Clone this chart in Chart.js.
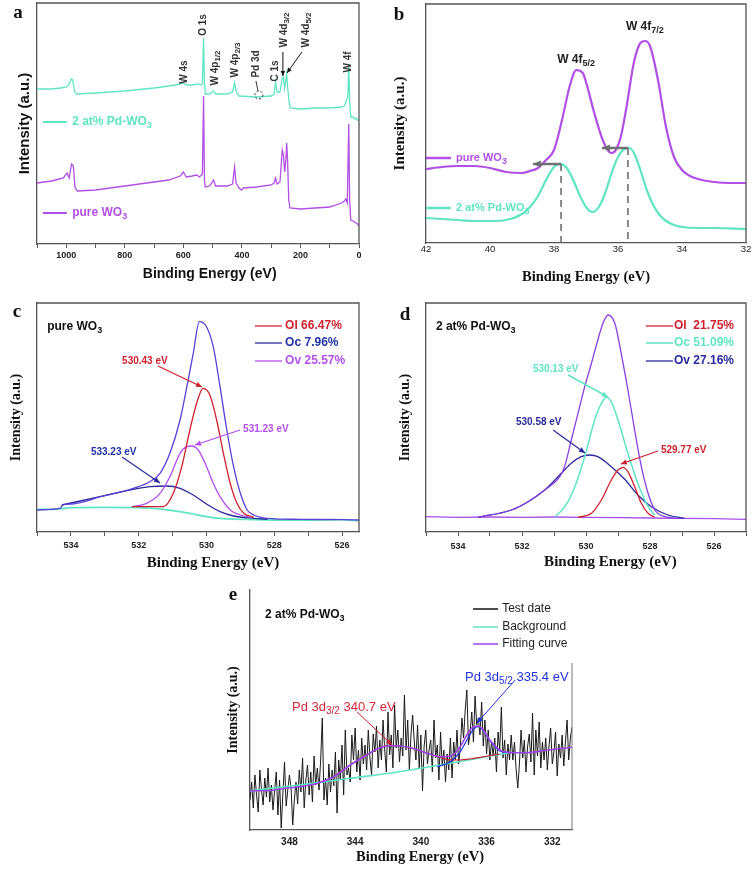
<!DOCTYPE html>
<html>
<head>
<meta charset="utf-8">
<script src="https://cdn.jsdelivr.net/npm/chart.js@4.4.1/dist/chart.umd.min.js"></script>
<style>
  body { margin: 0; background: #fff; }
  #page { position: relative; width: 756px; height: 874px; overflow: hidden; background: #fff; }
  canvas { position: absolute; }
</style>
</head>
<body>
<div id="page">
  <canvas id="chartA" width="378" height="290" style="left:0;top:0"></canvas>
  <canvas id="chartB" width="378" height="290" style="left:378px;top:0"></canvas>
  <canvas id="chartC" width="378" height="290" style="left:0;top:290px"></canvas>
  <canvas id="chartD" width="378" height="290" style="left:378px;top:290px"></canvas>
  <canvas id="chartE" width="400" height="294" style="left:200px;top:580px"></canvas>
</div>
<script>
// ---- panel a: survey spectra ----
const aPdEnergy = [1100,1050,1020,1000,990,983,978,972,965,900,800,700,650,610,600,590,570,550,540,535,531,528,525,510,497,490,450,432,425,420,410,350,300,290,285,280,270,262,258,254,250,247,243,238,234,200,150,100,60,50,42,38,35,32,28,20,15,10,5,0];
const aPdIntensity = [155,155,156,157,160,165,164,153,150,151,153,156,158,160,161,159,159,160,159,160,206,162,150,150,153,150,150,152,161,153,148,147,148,150,162,152,152,166,167,156,164,170,154,140,136,135,136,136,137,138,144,148,180,144,127,127,125,126,124,124];
const aPureEnergy = [1100,1050,1010,997,990,982,976,970,962,900,800,700,650,610,600,590,570,555,545,535,531,528,525,510,497,490,450,432,425,420,410,402,395,350,300,290,285,280,270,262,258,254,250,247,244,240,236,200,150,100,60,50,45,40,35,32,28,20,15,10,5,0];
const aPureIntensity = [61,63,66,71,66,80,78,56,53,54,58,62,64,68,72,67,68,69,67,70,148,64,57,58,64,58,58,60,77,61,56,54,56,57,59,61,66,60,62,94,89,72,84,101,84,44,36,35,36,37,41,43,45,41,120,44,24,23,22,21,20,18];

// ---- panel b: W 4f ----
const bPureEnergy = [42,41.5,41,40.5,40,39.5,39,38.75,38.5,38.25,38,37.75,37.5,37.3,37.1,37,36.75,36.5,36.3,36.2,36.05,35.9,35.75,35.5,35.3,35.15,35,34.75,34.5,34.25,34,33.75,33.5,33,32.5,32];
const bPureIntensity = [74,76,77,77,75,71,70,72,75,83,93,123,158,173,170,161,131,105,92,90,94,108,133,181,200,202,197,163,116,86,73,67,64,61,60,60];
const bPdEnergy = [42,41.5,41,40.5,40,39.5,39,38.75,38.5,38.25,38,37.8,37.6,37.4,37.2,37,36.8,36.6,36.4,36.2,36,35.8,35.65,35.5,35.3,35.1,34.9,34.7,34.5,34.25,34,33.5,33,32];
const bPdIntensity = [25,24,23,22,22,23,29,36,47,63,76,79,75,63,48,36,31,36,50,70,86,94,95,90,73,53,38,28,22,18,16,15,15,14];

// ---- panel c: O 1s pure WO3 ----
const cBgEnergy = [535,534.5,534,533,532,531.5,531,530.5,530,529.5,529,528,527,526,525.5];
const cBgIntensity = [22.7,22.7,24.3,24.7,24.3,23.3,21.3,18.7,15.3,13.3,12.7,12,12,12.3,11.3];
const cRawEnergy = [535,534.6,534.3,534.25,534,533.5,533.14,532.6,532.16,531.67,531.37,531.08,530.78,530.54,530.39,530.21,530.0,529.8,529.6,529.4,529.2,529.0,528.8,528.6,528.2,527.2,526,525.5];
const cRawIntensity = [22,22.7,24,27,28,31.3,35.3,39.3,43.7,50.3,58.7,78.7,112,152,178.7,210.3,205.3,185.3,145.3,102,65.3,38.7,22,17,13.7,12.7,12.3,12];
const cOlEnergy = [532.2,531.27,530.98,530.73,530.49,530.29,530.1,529.9,529.7,529.5,529.3,529.1,528.9,528.6];
const cOlIntensity = [25.3,25.3,38.7,65.3,102,128.7,143.7,137,112,78.7,48.7,28.7,18.7,14.7];
const cOvEnergy = [532.21,531.77,531.37,531.08,530.78,530.58,530.44,530.24,530.04,529.8,529.6,529.3,529.0,528.7];
const cOvIntensity = [25.3,28.7,38.7,55.3,78.7,85.3,86,82,68.7,48.7,35.3,22,17,14.7];
const cOcEnergy = [534.27,533.14,532.16,531.67,531.17,530.78,530.39,530.0,529.6,529.2,528.6,528.2];
const cOcIntensity = [27,35.3,42.7,45.3,46,43.7,37,28,20.3,16,13.7,12.7];

// ---- panel d: O 1s 2 at% Pd-WO3 ----
const dBaseEnergy = [535,534,533,532,531,530,529,528,527,526,525];
const dBaseIntensity = [15.3,14.7,15,14.7,15,14.7,14.3,14,13.7,13.3,12.7];
const dRawEnergy = [533.37,532.33,531.81,531.29,530.82,530.67,530.46,530.25,530.04,529.83,529.63,529.47,529.31,529.1,528.9,528.69,528.48,528.27,528.06,527.85,527.54,527.13];
const dRawIntensity = [14.7,22,30.3,42,55.3,65.3,92,118.7,145.3,168.7,192,208.7,217,208.7,178.7,142,102,65.3,38.7,22,15.3,13.7];
const dOcEnergy = [530.97,530.66,530.35,530.04,529.73,529.52,529.36,529.21,529.0,528.69,528.38,528.06,527.85];
const dOcIntensity = [15.3,25.3,45.3,75.3,112,128.7,134.7,130.3,112,78.7,48.7,25.3,17];
const dOlEnergy = [530.25,529.83,529.52,529.21,529.0,528.84,528.69,528.48,528.27,528.06,527.85];
const dOlIntensity = [14.7,18.7,32,52,62,64.7,60.3,45.3,28.7,18.7,14.7];
const dOvEnergy = [533.37,532.33,531.81,531.29,530.77,530.46,530.15,529.89,529.63,529.21,528.79,528.38,527.96,527.44,526.92];
const dOvIntensity = [14.7,22,30.3,42,58.7,68.7,75.3,77,75.3,65.3,52.7,37,25.3,17,13.7];

// ---- panel e: Pd 3d ----
const eTestStart = 350.4;
const eTestStep = 0.1;
const eTestIntensity = [
  30,48,22,55,35,18,60,40,25,52,
  33,62,28,45,20,40,58,15,50,2,
  36,68,24,40,55,42,5,30,48,26,
  60,38,72,22,50,65,35,58,28,74,
  45,62,40,70,112,30,52,25,66,38,
  60,44,78,17,70,50,85,35,100,55,
  62,48,95,70,102,58,80,50,92,66,
  85,60,100,72,55,96,78,104,62,90,
  70,110,80,58,118,75,95,62,125,82,
  100,68,92,74,135,80,110,60,96,115,
  88,70,105,62,95,39,84,100,66,80,
  90,58,110,72,85,50,98,64,80,48,
  76,60,92,52,88,70,100,66,82,112,
  92,120,140,85,98,118,88,134,105,112,
  95,128,84,110,76,100,70,88,75,92,
  58,98,80,123,72,90,55,86,70,95,
  70,88,60,42,66,100,72,90,58,84,
  96,68,117,55,100,74,108,62,88,70,
  92,60,84,102,66,78,98,54,86,72,
  95,64,88,110,70,92,103
];
const eFitEnergy = [350.4,349.4,348.4,347.4,346.3,345.3,344.3,343.3,342.5,341.9,341.3,340.5,339.6,338.8,338.2,337.6,337.2,336.8,336.5,336.2,335.8,335.2,334.4,333.6,332.3,330.8];
const eFitIntensity = [39.3,39.3,41.3,43.3,46.7,53.3,65,75,82.3,84.3,84,81.7,76.7,73.3,74,83.3,95,103.3,104,100,90,80,77.3,77.3,80,82.7];
const eBgEnergy = [350.4,347.4,344.3,341.3,338.2,336.2,334.6];
const eBgIntensity = [39.3,45,51.7,58.3,66.7,72.7,77.3];
const eRedEnergy = [345.3,344.3,343.3,342.5,341.9,341.3,340.5,339.6,338.8,338.2,337.6,337.0,336.4,335.8,335.2];
const eRedIntensity = [53.3,65,75,82.3,84.3,84,81.7,76.7,72.7,70,70,71,72.7,74.3,76];
const eBlueEnergy = [339.0,338.2,337.6,337.2,336.8,336.5,336.2,335.8,335.2,334.6];
const eBlueIntensity = [63.3,68.3,78.3,90,100.7,103.3,99.3,89.3,79,77.3];

const SANS = '"Liberation Sans", Arial, sans-serif';
const SERIF = '"Liberation Serif", "Times New Roman", serif';
const CYAN = '#5fe5c4';
const PURPLE = '#b14fe6';
const RED = '#d0202e';
const NAVY = '#2a2a9e';
const AXIS = '#555';

function pts(xs, ys) {
    return xs.map(function (x, i) { return { x: x, y: ys[i] }; });
}

function series(xs, ys, color, width, smooth) {
    return {
        data: pts(xs, ys),
        borderColor: color,
        borderWidth: width,
        pointRadius: 0,
        fill: false,
        tension: smooth ? 0.4 : 0,
        cubicInterpolationMode: smooth ? 'monotone' : 'default'
    };
}

// text with _{...} subscripts
function drawRich(ctx, t, x, y) {
    let size = t.size || 11;
    let weight = t.bold === false ? 'normal' : 'bold';
    let fam = t.serif ? SERIF : SANS;
    let subSize = Math.round(size * 0.78);
    let parts = [];
    t.s.split(/(_\{[^}]*\})/).forEach(function (p) {
        if (p === '') return;
        if (p.indexOf('_{') === 0) parts.push({ text: p.slice(2, -1), sub: true });
        else parts.push({ text: p, sub: false });
    });
    let total = 0;
    parts.forEach(function (p) {
        ctx.font = weight + ' ' + (p.sub ? subSize : size) + 'px ' + fam;
        p.w = ctx.measureText(p.text).width;
        total += p.w;
    });
    let cx = t.align === 'center' ? -total / 2 : 0;
    ctx.save();
    ctx.translate(x, y);
    if (t.rot) ctx.rotate(t.rot * Math.PI / 180);
    ctx.fillStyle = t.c || '#222';
    ctx.textBaseline = 'middle';
    ctx.textAlign = 'left';
    parts.forEach(function (p) {
        ctx.font = weight + ' ' + (p.sub ? subSize : size) + 'px ' + fam;
        ctx.fillText(p.text, cx, p.sub ? size * 0.32 : 0);
        cx += p.w;
    });
    ctx.restore();
}

function drawSeg(ctx, l, X, Y) {
    let x1 = X(l.x1), y1 = Y(l.y1), x2 = X(l.x2), y2 = Y(l.y2);
    ctx.save();
    ctx.strokeStyle = l.c;
    ctx.lineWidth = l.w || 1;
    ctx.setLineDash(l.dash || []);
    ctx.beginPath();
    ctx.moveTo(x1, y1);
    ctx.lineTo(x2, y2);
    ctx.stroke();
    if (l.head) {
        let a = Math.atan2(y2 - y1, x2 - x1);
        let len = l.head, half = l.head * 0.45;
        ctx.setLineDash([]);
        ctx.fillStyle = l.c;
        ctx.beginPath();
        ctx.moveTo(x2, y2);
        ctx.lineTo(x2 - len * Math.cos(a) + half * Math.sin(a), y2 - len * Math.sin(a) - half * Math.cos(a));
        ctx.lineTo(x2 - len * Math.cos(a) - half * Math.sin(a), y2 - len * Math.sin(a) + half * Math.cos(a));
        ctx.closePath();
        ctx.fill();
    }
    ctx.restore();
}

function notesPlugin(notes) {
    return {
        id: 'notes',
        afterDraw: function (chart) {
            const ctx = chart.ctx;
            const X = function (v) { return chart.scales.x.getPixelForValue(v); };
            const Y = function (v) { return chart.scales.y.getPixelForValue(v); };
            const area = chart.chartArea;
            if (notes.box) {
                ctx.save();
                ctx.strokeStyle = AXIS;
                ctx.lineWidth = 1.3;
                ctx.beginPath();
                ctx.moveTo(area.left, area.top);
                ctx.lineTo(area.right, area.top);
                ctx.lineTo(area.right, area.bottom);
                ctx.stroke();
                ctx.restore();
            }
            (notes.lines || []).forEach(function (l) { drawSeg(ctx, l, X, Y); });
            (notes.circles || []).forEach(function (o) {
                ctx.save();
                ctx.strokeStyle = o.c;
                ctx.setLineDash([2, 2]);
                ctx.beginPath();
                ctx.arc(X(o.x), Y(o.y), o.r, 0, Math.PI * 2);
                ctx.stroke();
                ctx.restore();
            });
            (notes.texts || []).forEach(function (t) { drawRich(ctx, t, X(t.x), Y(t.y)); });
            ctx.save();
            ctx.font = 'bold 19px ' + SERIF;
            ctx.fillStyle = '#111';
            ctx.textAlign = 'center';
            ctx.textBaseline = 'middle';
            ctx.fillText(notes.tag.s, notes.tag.x, notes.tag.y);
            ctx.restore();
        }
    };
}

function createChart(id, cfg) {
    return new Chart(document.getElementById(id), {
        type: 'line',
        data: { datasets: cfg.datasets },
        options: {
            responsive: false,
            animation: false,
            events: [],
            layout: { padding: { left: 0, top: cfg.top, right: cfg.right, bottom: 0 } },
            plugins: { legend: { display: false }, tooltip: { enabled: false } },
            scales: {
                x: {
                    type: 'linear',
                    reverse: true,
                    min: cfg.xMin,
                    max: cfg.xMax,
                    afterFit: function (s) { s.height = cfg.xHeight; },
                    border: { display: true, color: AXIS, width: 1.3 },
                    grid: { drawOnChartArea: false, drawTicks: cfg.ticks, tickLength: 4, tickColor: AXIS },
                    ticks: {
                        stepSize: cfg.step,
                        includeBounds: false,
                        autoSkip: false,
                        maxRotation: 0,
                        padding: cfg.tickPad,
                        color: '#222',
                        font: cfg.tickFont,
                        callback: function (v) {
                            return (Math.abs(v % cfg.every) < 1e-6 && v <= cfg.lastLabel) ? v : '';
                        }
                    },
                    title: { display: true, text: cfg.xTitle, color: '#111', font: cfg.xTitleFont, padding: { top: 0, bottom: cfg.xTitlePad } }
                },
                y: {
                    min: 0,
                    max: cfg.yMax,
                    afterFit: function (s) { s.width = cfg.yWidth; },
                    border: { display: true, color: AXIS, width: 1.3 },
                    grid: { drawOnChartArea: false, drawTicks: false },
                    ticks: { display: false },
                    title: { display: true, text: 'Intensity (a.u.)', color: '#111', font: cfg.yTitleFont, padding: { top: cfg.yTitlePad, bottom: 0 } }
                }
            }
        },
        plugins: [notesPlugin(cfg.notes)]
    });
}

document.addEventListener('DOMContentLoaded', function () {
    // a
    createChart('chartA', {
        datasets: [
            series(aPdEnergy, aPdIntensity, CYAN, 1.3, false),
            series(aPureEnergy, aPureIntensity, PURPLE, 1.3, false)
        ],
        top: 3, right: 19, yWidth: 37, xHeight: 46,
        xMin: 0, xMax: 1100, step: 100, every: 200, lastLabel: 1000,
        ticks: true, tickPad: 2, tickFont: { family: SANS, size: 9, weight: 'bold' },
        yMax: 241,
        xTitle: '      Binding Energy (eV)', xTitleFont: { family: SANS, size: 14, weight: 'bold' }, xTitlePad: 7,
        yTitleFont: { family: SANS, size: 15, weight: 'bold' }, yTitlePad: 16,
        notes: {
            box: true,
            tag: { s: 'a', x: 18, y: 13 },
            texts: [
                { x: 598, y: 172, s: 'W 4s', rot: -90, align: 'center', size: 10, c: '#333' },
                { x: 533, y: 219, s: 'O 1s', rot: -90, align: 'center', size: 10, c: '#333' },
                { x: 492, y: 176, s: 'W 4p_{1/2}', rot: -90, align: 'center', size: 10, c: '#333' },
                { x: 424, y: 184, s: 'W 4p_{2/3}', rot: -90, align: 'center', size: 10, c: '#333' },
                { x: 352, y: 180, s: 'Pd 3d', rot: -90, align: 'center', size: 10, c: '#333' },
                { x: 287, y: 173, s: 'C 1s', rot: -90, align: 'center', size: 10, c: '#333' },
                { x: 256, y: 214, s: 'W 4d_{3/2}', rot: -90, align: 'center', size: 10, c: '#333' },
                { x: 181, y: 214, s: 'W 4d_{5/2}', rot: -90, align: 'center', size: 10, c: '#333' },
                { x: 38, y: 182, s: 'W 4f', rot: -90, align: 'center', size: 10, c: '#333' },
                { x: 980, y: 122, s: '2 at% Pd-WO_{3}', size: 12, c: CYAN },
                { x: 980, y: 31, s: 'pure WO_{3}', size: 12, c: PURPLE }
            ],
            lines: [
                { x1: 352, y1: 163, x2: 345, y2: 153, c: '#333', w: 1 },
                { x1: 260, y1: 192, x2: 260, y2: 168, c: '#111', w: 1, head: 5 },
                { x1: 195, y1: 192, x2: 246, y2: 171, c: '#111', w: 1, head: 5 },
                { x1: 1080, y1: 122, x2: 998, y2: 122, c: CYAN, w: 2 },
                { x1: 1080, y1: 31, x2: 998, y2: 31, c: PURPLE, w: 2 }
            ],
            circles: [{ x: 342, y: 149, r: 4, c: '#333' }]
        }
    });

    // b
    createChart('chartB', {
        datasets: [
            series(bPureEnergy, bPureIntensity, PURPLE, 2.2, true),
            series(bPdEnergy, bPdIntensity, CYAN, 2.2, true)
        ],
        top: 4, right: 10, yWidth: 48, xHeight: 47,
        xMin: 32, xMax: 42, step: 1, every: 2, lastLabel: 1e9,
        ticks: false, tickPad: 1, tickFont: { family: SANS, size: 9.5 },
        yMax: 239,
        xTitle: 'Binding Energy (eV)', xTitleFont: { family: SERIF, size: 14.5, weight: 'bold' }, xTitlePad: 4,
        yTitleFont: { family: SERIF, size: 15, weight: 'bold' }, yTitlePad: 13,
        notes: {
            box: true,
            tag: { s: 'b', x: 21, y: 15 },
            texts: [
                { x: 37.31, y: 183, s: 'W 4f_{5/2}', align: 'center', size: 12, c: '#222' },
                { x: 35.16, y: 216, s: 'W 4f_{7/2}', align: 'center', size: 12, c: '#222' },
                { x: 41.06, y: 85, s: 'pure WO_{3}', size: 11, c: PURPLE },
                { x: 41.06, y: 35, s: '2 at% Pd-WO_{3}', size: 11, c: CYAN }
            ],
            lines: [
                { x1: 42, y1: 85, x2: 41.22, y2: 85, c: PURPLE, w: 2.5 },
                { x1: 42, y1: 35, x2: 41.22, y2: 35, c: CYAN, w: 2.5 },
                { x1: 37.78, y1: 79, x2: 37.78, y2: 0, c: '#666', w: 1.5, dash: [7, 5] },
                { x1: 35.69, y1: 95, x2: 35.69, y2: 0, c: '#666', w: 1.5, dash: [7, 5] },
                { x1: 37.78, y1: 79, x2: 38.66, y2: 79, c: '#707070', w: 2.5, head: 8 },
                { x1: 35.69, y1: 95, x2: 36.5, y2: 95, c: '#707070', w: 2.5, head: 8 }
            ]
        }
    });

    // c
    createChart('chartC', {
        datasets: [
            series(cRawEnergy, cRawIntensity, '#5b3fd8', 1.3, true),
            series(cOlEnergy, cOlIntensity, RED, 1.3, true),
            series(cOvEnergy, cOvIntensity, '#b44ff0', 1.3, true),
            series(cOcEnergy, cOcIntensity, NAVY, 1.3, true),
            series(cBgEnergy, cBgIntensity, CYAN, 1.8, true)
        ],
        top: 13, right: 19, yWidth: 37, xHeight: 48,
        xMin: 525.5, xMax: 535, step: 1, every: 2, lastLabel: 1e9,
        ticks: true, tickPad: 4, tickFont: { family: SANS, size: 9, weight: 'bold' },
        yMax: 229,
        xTitle: '        Binding Energy (eV)', xTitleFont: { family: SERIF, size: 15, weight: 'bold' }, xTitlePad: 8,
        yTitleFont: { family: SERIF, size: 14, weight: 'bold' }, yTitlePad: 7.6,
        notes: {
            box: true,
            tag: { s: 'c', x: 17, y: 22 },
            texts: [
                { x: 534.7, y: 205, s: 'pure WO_{3}', size: 12, c: '#111' },
                { x: 527.68, y: 206, s: 'Ol 66.47%', size: 12, c: RED },
                { x: 527.68, y: 189, s: 'Oc 7.96%', size: 12, c: '#2233aa' },
                { x: 527.68, y: 171, s: 'Ov 25.57%', size: 12, c: '#b44ff0' },
                { x: 532.49, y: 171, s: '530.43 eV', size: 10, c: RED },
                { x: 528.92, y: 103, s: '531.23 eV', size: 10, c: '#b44ff0' },
                { x: 533.41, y: 80, s: '533.23 eV', size: 10, c: '#2233aa' }
            ],
            lines: [
                { x1: 528.57, y1: 206, x2: 527.77, y2: 206, c: RED, w: 1.3 },
                { x1: 528.57, y1: 189, x2: 527.77, y2: 189, c: NAVY, w: 1.3 },
                { x1: 528.57, y1: 171, x2: 527.77, y2: 171, c: '#b44ff0', w: 1.3 },
                { x1: 531.43, y1: 166, x2: 530.13, y2: 145, c: RED, w: 1.2, head: 6 },
                { x1: 529.01, y1: 102, x2: 530.34, y2: 87, c: '#b44ff0', w: 1.2, head: 6 },
                { x1: 532.49, y1: 75, x2: 531.37, y2: 49, c: NAVY, w: 1.2, head: 6 }
            ]
        }
    });

    // d
    createChart('chartD', {
        datasets: [
            series(dRawEnergy, dRawIntensity, '#8a3fe0', 1.3, true),
            series(dOcEnergy, dOcIntensity, CYAN, 1.5, true),
            series(dOlEnergy, dOlIntensity, RED, 1.3, true),
            series(dOvEnergy, dOvIntensity, NAVY, 1.3, true),
            series(dBaseEnergy, dBaseIntensity, '#a64fe8', 1.3, false)
        ],
        top: 13, right: 10, yWidth: 48, xHeight: 48,
        xMin: 525, xMax: 535, step: 1, every: 2, lastLabel: 1e9,
        ticks: true, tickPad: 5, tickFont: { family: SANS, size: 9, weight: 'bold' },
        yMax: 229,
        xTitle: '             Binding Energy (eV)', xTitleFont: { family: SERIF, size: 15, weight: 'bold' }, xTitlePad: 9,
        yTitleFont: { family: SERIF, size: 14, weight: 'bold' }, yTitlePad: 18.6,
        notes: {
            box: true,
            tag: { s: 'd', x: 27, y: 25 },
            texts: [
                { x: 534.69, y: 205, s: '2 at% Pd-WO_{3}', size: 12, c: '#111' },
                { x: 527.25, y: 206, s: 'Ol  21.75%', size: 12, c: RED },
                { x: 527.25, y: 189, s: 'Oc 51.09%', size: 12, c: CYAN },
                { x: 527.25, y: 171, s: 'Ov 27.16%', size: 12, c: NAVY },
                { x: 531.66, y: 163, s: '530.13 eV', size: 10, c: CYAN },
                { x: 532.19, y: 110, s: '530.58 eV', size: 10, c: NAVY },
                { x: 527.66, y: 82, s: '529.77 eV', size: 10, c: RED }
            ],
            lines: [
                { x1: 528.13, y1: 206, x2: 527.28, y2: 206, c: RED, w: 1.3 },
                { x1: 528.13, y1: 189, x2: 527.28, y2: 189, c: CYAN, w: 1.5 },
                { x1: 528.13, y1: 171, x2: 527.28, y2: 171, c: NAVY, w: 1.3 },
                { x1: 530.56, y1: 157, x2: 529.31, y2: 135, c: CYAN, w: 1.5, head: 6 },
                { x1: 531.03, y1: 102, x2: 530.03, y2: 79, c: NAVY, w: 1.2, head: 6 },
                { x1: 527.75, y1: 81, x2: 528.91, y2: 68, c: RED, w: 1.2, head: 6 }
            ]
        }
    });

    // e
    let eTestEnergy = eTestIntensity.map(function (v, i) { return +(eTestStart - i * eTestStep).toFixed(1); });
    createChart('chartE', {
        datasets: [
            series(eFitEnergy, eFitIntensity, '#9a46e8', 1.6, true),
            series(eBlueEnergy, eBlueIntensity, '#2233dd', 1.2, true),
            series(eRedEnergy, eRedIntensity, '#c8202e', 1.2, true),
            series(eBgEnergy, eBgIntensity, CYAN, 1.6, true),
            series(eTestEnergy, eTestIntensity, '#1a1a1a', 1, false)
        ],
        top: 10, right: 28, yWidth: 50, xHeight: 44,
        xMin: 330.8, xMax: 350.4, step: 4, every: 4, lastLabel: 1e9,
        ticks: false, tickPad: 6, tickFont: { family: SANS, size: 10, weight: 'bold' },
        yMax: 240,
        xTitle: '     Binding Energy (eV)', xTitleFont: { family: SERIF, size: 14.5, weight: 'bold' }, xTitlePad: 8,
        yTitleFont: { family: SERIF, size: 14, weight: 'bold' }, yTitlePad: 24.6,
        notes: {
            box: false,
            tag: { s: 'e', x: 33, y: 15 },
            texts: [
                { x: 349.49, y: 215, s: '2 at% Pd-WO_{3}', size: 12, c: '#111' },
                { x: 335.05, y: 221, s: 'Test date', size: 12, bold: false, c: '#222' },
                { x: 335.05, y: 203, s: 'Background', size: 12, bold: false, c: '#222' },
                { x: 335.05, y: 186, s: 'Fitting curve', size: 12, bold: false, c: '#222' },
                { x: 337.31, y: 153, s: 'Pd 3d_{5/2} 335.4 eV', size: 13, bold: false, c: '#2233dd' },
                { x: 347.84, y: 123, s: 'Pd 3d_{3/2} 340.7 eV', size: 13, bold: false, c: '#d42a3a' }
            ],
            lines: [
                { x1: 330.8, y1: 0, x2: 330.8, y2: 167, c: '#777', w: 1 },
                { x1: 336.82, y1: 221, x2: 335.3, y2: 221, c: '#111', w: 1.5 },
                { x1: 336.82, y1: 203, x2: 335.3, y2: 203, c: CYAN, w: 1.5 },
                { x1: 336.82, y1: 186, x2: 335.3, y2: 186, c: '#9a46e8', w: 1.5 },
                { x1: 334.26, y1: 150, x2: 336.58, y2: 107, c: '#2233dd', w: 1, head: 6 },
                { x1: 343.88, y1: 118, x2: 341.75, y2: 85, c: '#c8202e', w: 1, head: 6 }
            ]
        }
    });
});
</script>
</body>
</html>
